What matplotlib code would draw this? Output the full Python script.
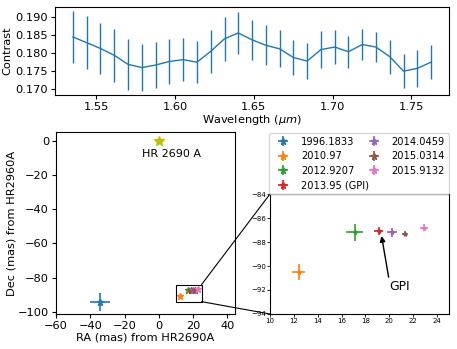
import numpy as np
import matplotlib
matplotlib.use("Agg")
import matplotlib.pyplot as plt
from matplotlib.patches import Rectangle, ConnectionPatch
from matplotlib.ticker import FormatStrFormatter

# spectrum of the companion
wavelength = [1.5351, 1.5439, 1.5526, 1.5614, 1.5701, 1.5789, 1.5876, 1.5964, 1.6051,
              1.6139, 1.6226, 1.6314, 1.6401, 1.6489, 1.6576, 1.6664, 1.6751, 1.6839,
              1.6926, 1.7014, 1.7101, 1.7189, 1.7276, 1.7364, 1.7451, 1.7539, 1.7626]
contrast = [0.1845, 0.1829, 0.1813, 0.1794, 0.1769, 0.1760, 0.1767, 0.1777, 0.1782,
            0.1775, 0.1805, 0.1840, 0.1856, 0.1837, 0.1822, 0.1812, 0.1788, 0.1778,
            0.1810, 0.1817, 0.1804, 0.1824, 0.1817, 0.1790, 0.1750, 0.1758, 0.1775]
contrast_err = [0.0072, 0.0074, 0.0071, 0.0073, 0.0070, 0.0065, 0.0063, 0.0062, 0.0059,
                0.0059, 0.0059, 0.0061, 0.0057, 0.0055, 0.0055, 0.0051, 0.0048, 0.0051,
                0.0051, 0.0047, 0.0044, 0.0042, 0.0042, 0.0047, 0.0047, 0.0051, 0.0047]

# astrometry of the companion relative to HR 2690 A
epochs = ["1996.1833", "2010.97", "2012.9207", "2013.95 (GPI)",
          "2014.0459", "2015.0314", "2015.9132"]
ra = [-34.3, 12.4, 17.1, 19.1, 20.2, 21.3, 22.9]
dec = [-94.0, -90.5, -87.2, -87.1, -87.2, -87.3, -86.8]
ra_err = [5.7, 0.52, 0.72, 0.38, 0.42, 0.22, 0.35]
dec_err = [5.2, 0.67, 0.69, 0.32, 0.37, 0.22, 0.28]

fig = plt.figure(figsize=(4.57, 3.49), dpi=100)
fs = 8.2

# --- spectrum ---
ax1 = fig.add_axes([0.1204, 0.7278, 0.8621, 0.2521])
ax1.errorbar(wavelength, contrast, yerr=contrast_err, color="C0", lw=1, elinewidth=1)
ax1.set_yticks([0.170, 0.175, 0.180, 0.185, 0.190])
ax1.yaxis.set_major_formatter(FormatStrFormatter("%.3f"))
ax1.set_xlabel(r"Wavelength ($\mu m$)", fontsize=fs, labelpad=1)
ax1.set_ylabel("Contrast", fontsize=fs, labelpad=2)
ax1.tick_params(labelsize=fs, length=3, pad=2)

# --- astrometry ---
ax2 = fig.add_axes([0.1225, 0.1003, 0.3917, 0.5215])
for i in range(len(epochs)):
    ax2.errorbar(ra[i], dec[i], xerr=ra_err[i], yerr=dec_err[i], fmt="*",
                 color="C%d" % i, ms=5, elinewidth=1.2, label=epochs[i])
ax2.plot(0, 0, "*", color="y", ms=7.5)
ax2.text(7.5, -7.8, "HR 2690 A", fontsize=8, ha="center", va="center")
ax2.add_patch(Rectangle((10, -94), 15, 10, fill=False, ec="k", lw=0.8))
ax2.set_xlim(-60, 44.5)
ax2.set_ylim(-101.2, 5)
ax2.set_xticks([-60, -40, -20, 0, 20, 40])
ax2.set_yticks([0, -20, -40, -60, -80, -100])
ax2.set_xlabel("RA (mas) from HR2690A", fontsize=fs, labelpad=1)
ax2.set_ylabel("Dec (mas) from HR2960A", fontsize=fs, labelpad=1)
ax2.tick_params(labelsize=fs, length=3, pad=2)

# --- zoomed inset ---
axins = fig.add_axes([0.5908, 0.1003, 0.3917, 0.3438])
for i in range(1, len(epochs)):
    axins.errorbar(ra[i], dec[i], xerr=ra_err[i], yerr=dec_err[i], fmt="*",
                   color="C%d" % i, ms=3, elinewidth=1.2)
axins.set_xlim(10, 25)
axins.set_ylim(-94, -84)
axins.set_xticks(np.arange(10, 25, 2))
axins.set_yticks(np.arange(-94, -83, 2))
axins.tick_params(labelsize=5, length=2, width=0.6, pad=1)
axins.annotate("GPI", xy=(19.35, -87.5), xytext=(19.98, -91.7), fontsize=8.9,
               ha="left", va="center",
               arrowprops=dict(arrowstyle="-|>", color="k", lw=1, mutation_scale=8,
                               relpos=(0.0, 1.0), shrinkA=0, shrinkB=0))

for xyA, xyB in [((0, 1), (25, -84)), ((0, 0), (25, -94))]:
    con = ConnectionPatch(xyA=xyA, coordsA=axins.transAxes, xyB=xyB,
                          coordsB=ax2.transData, color="k", lw=0.8)
    fig.add_artist(con)

handles, labels = ax2.get_legend_handles_labels()
fig.legend(handles, labels, ncol=2, fontsize=7.1, loc="lower right",
           bbox_to_anchor=(449 / 457, 1 - 194 / 349), borderaxespad=0,
           labelspacing=0.45, handlelength=2.0, columnspacing=-0.5)

fig.savefig("out.png", dpi=100)
